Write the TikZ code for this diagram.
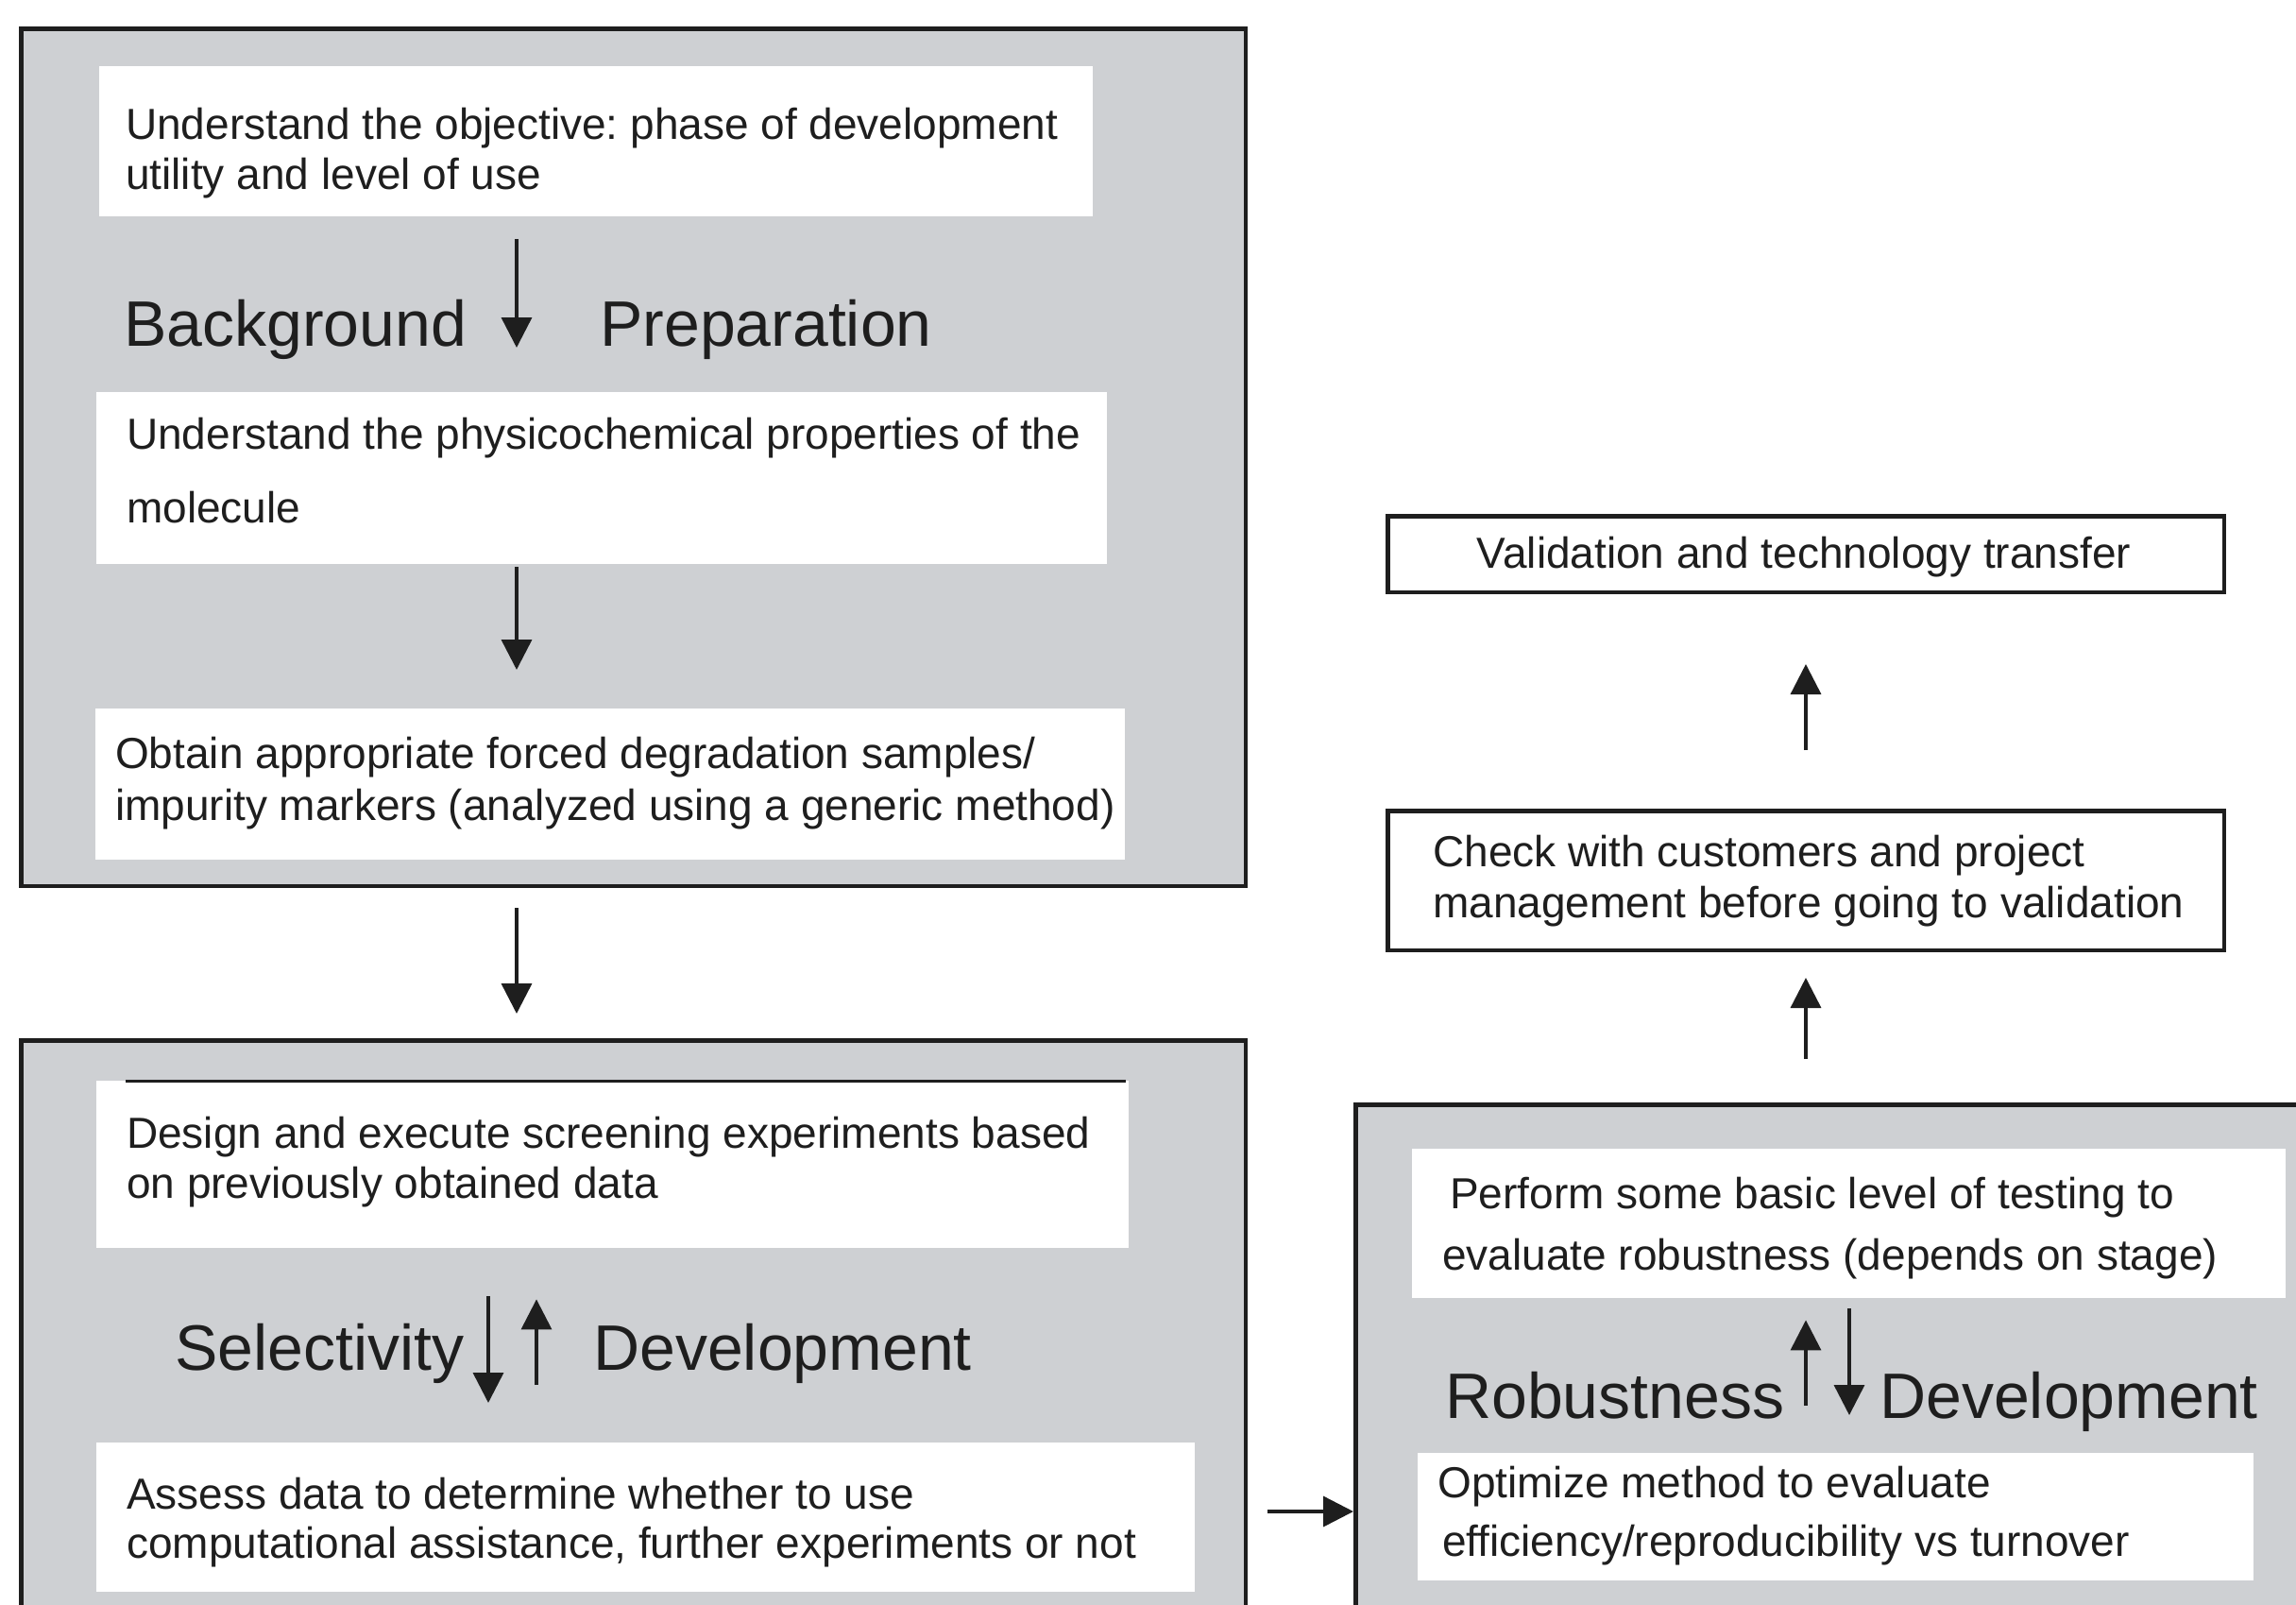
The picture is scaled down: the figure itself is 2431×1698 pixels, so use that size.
\documentclass[tikz,border=0pt]{standalone}
\usepackage{fontspec}
\setmainfont{Liberation Sans}
\usetikzlibrary{arrows.meta}
\frenchspacing
\definecolor{panelgray}{RGB}{206,208,211}
\definecolor{ink}{RGB}{30,30,30}
\tikzset{
  panel/.style={rectangle, draw=ink, line width=4.5pt, fill=panelgray, anchor=north west, inner sep=0pt},
  card/.style={rectangle, fill=white, anchor=north west, inner sep=0pt},
  framed/.style={rectangle, draw=ink, line width=4.5pt, fill=white, anchor=north west, inner sep=0pt},
  body/.style={anchor=base west, inner sep=0pt, text=ink, font=\fontsize{46pt}{54pt}\selectfont},
  head/.style={anchor=base west, inner sep=0pt, text=ink, font=\fontsize{68pt}{80pt}\selectfont},
  arr/.style={draw=ink, line width=3.5pt, -{Triangle[length=32pt,width=32pt]}},
}
\begin{document}
\begin{tikzpicture}[x=1pt,y=-1pt]
\useasboundingbox (0,0) rectangle (2431,1698);
\clip (0,0) rectangle (2431,1698);

% grey stage panels
\node[panel, minimum width=1296.5pt, minimum height=907.5pt] (A) at (20,28) {};
\node[panel, minimum width=1296.5pt, minimum height=700pt] (B) at (20,1099) {};
\node[panel, minimum width=1100pt, minimum height=700pt] (C) at (1433,1167) {};

% white cards inside the panels
\node[card, minimum width=1052pt, minimum height=159pt] (w1) at (105,70) {};
\node[card, minimum width=1070pt, minimum height=182pt] (w2) at (102,415) {};
\node[card, minimum width=1090pt, minimum height=160pt] (w3) at (101,750) {};
\node[card, minimum width=1093pt, minimum height=177pt] (w4) at (102,1144) {};
\node[card, minimum width=1163pt, minimum height=158pt] (w5) at (102,1527) {};
\node[card, minimum width=925pt, minimum height=158pt] (w6) at (1495,1216) {};
\node[card, minimum width=885pt, minimum height=135pt] (w7) at (1501,1538) {};
\draw[ink, line width=3pt] ([xshift=31pt]w4.north west) -- ([xshift=-3pt]w4.north east);

% framed boxes on the right
\node[framed, minimum width=885.5pt, minimum height=80.5pt] (valid) at (1467,544) {};
\node[framed, minimum width=885.5pt, minimum height=147.5pt] (check) at (1467,856) {};

% texts
\node[body] (t1a) at (133,147) {Understand the objective: phase of development};
\node[body] (t1b) at (133,200) {utility and level of use};
\node[head] (lab1) at (131,366) {Background};
\node[head] (lab2) at (635,366) {Preparation};
\node[body] (t2a) at (134,475) {Understand the physicochemical properties of the};
\node[body] (t2b) at (134,553) {molecule};
\node[body] (t3a) at (122,813) {Obtain appropriate forced degradation samples/};
\node[body] (t3b) at (122,868) {impurity markers (analyzed using a generic method)};

\node[body] (t4a) at (134,1215) {Design and execute screening experiments based};
\node[body] (t4b) at (134,1268) {on previously obtained data};
\node[head] (lab3) at (185,1450) {Selectivity};
\node[head] (lab4) at (628,1450) {Development};
\node[body] (t5a) at (134,1597) {Assess data to determine whether to use};
\node[body] (t5b) at (134,1649) {computational assistance, further experiments or not};

\node[body] (t6a) at (1535,1279) {Perform some basic level of testing to};
\node[body] (t6b) at (1527,1344) {evaluate robustness (depends on stage)};
\node[head] (lab5) at (1530,1501) {Robustness};
\node[head] (lab6) at (1990,1501) {Development};
\node[body] (t7a) at (1522,1585) {Optimize method to evaluate};
\node[body] (t7b) at (1527,1647) {efficiency/reproducibility vs turnover};

\node[body, anchor=base] (tv) at (1910,601) {Validation and technology transfer};
\node[body] (tc1) at (1517,917) {Check with customers and project};
\node[body] (tc2) at (1517,971) {management before going to validation};

% connectors
\coordinate (xA) at (547,0);
\coordinate (xSd) at (517,0);
\coordinate (xSu) at (568,0);
\coordinate (xRu) at (1912,0);
\coordinate (xRd) at (1958,0);
\coordinate (yR) at (0,1600);

\draw[arr, shorten <=24pt, shorten >=47pt] (w1.south -| xA) -- (w2.north -| xA);
\draw[arr, shorten <=3pt, shorten >=41pt] (w2.south -| xA) -- (w3.north -| xA);
\draw[arr, shorten <=21pt, shorten >=26pt] (A.south -| xA) -- (B.north -| xA);

\draw[arr, shorten <=51pt, shorten >=42pt] (w4.south -| xSd) -- (w5.north -| xSd);
\draw[arr, shorten <=61pt, shorten >=54pt] (w5.north -| xSu) -- (w4.south -| xSu);

\draw[arr, shorten <=21pt] (B.east |- yR) -- (C.west |- yR);

\draw[arr, shorten <=50pt, shorten >=23pt] (w7.north -| xRu) -- (w6.south -| xRu);
\draw[arr, shorten <=11pt, shorten >=40pt] (w6.south -| xRd) -- (w7.north -| xRd);

\draw[arr, shorten <=46pt, shorten >=27pt] (check.south |- C.north) -- (check.south);
\draw[arr, shorten <=62pt, shorten >=74pt] (check.north) -- (valid.south);
\end{tikzpicture}
\end{document}
